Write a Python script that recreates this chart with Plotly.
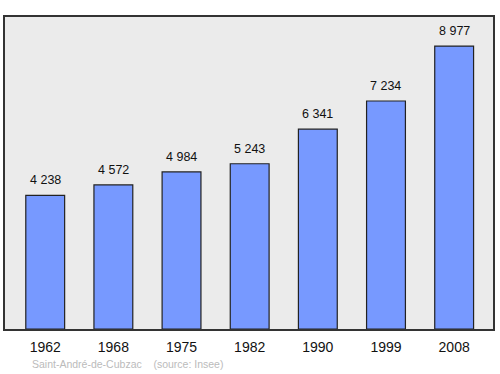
import plotly.graph_objects as go

years = ["1962", "1968", "1975", "1982", "1990", "1999", "2008"]
population = [4238, 4572, 4984, 5243, 6341, 7234, 8977]
value_labels = ["4 238", "4 572", "4 984", "5 243", "6 341", "7 234", "8 977"]

xpos = list(range(len(years)))
font_family = "Liberation Sans, Arial, sans-serif"

fig = go.Figure()
fig.add_trace(go.Bar(
    x=xpos, y=population, width=0.57,
    marker=dict(color="#7799ff", line=dict(color="#222222", width=1.2)),
    hoverinfo="skip",
))

for x, v, t in zip(xpos, population, value_labels):
    fig.add_annotation(x=x, y=v, text=t, showarrow=False, yanchor="bottom",
                       yshift=6, font=dict(family=font_family, size=12.5, color="#111111"))

fig.add_annotation(x=0.052, y=-0.112, xref="paper", yref="paper",
                   text="Saint-André-de-Cubzac&nbsp;&nbsp;&nbsp;&nbsp;(source: Insee)",
                   showarrow=False, xanchor="left", yanchor="middle",
                   font=dict(family=font_family, size=10.5, color="#bbbbbb"))

fig.update_layout(
    width=500, height=374,
    margin=dict(l=5, r=5, t=17, b=45),
    paper_bgcolor="white", plot_bgcolor="#ebebeb",
    showlegend=False,
    xaxis=dict(range=[-0.59, 6.57], tickmode="array", tickvals=xpos, ticktext=years,
               showgrid=False, zeroline=False, showline=True, mirror=True,
               linecolor="#333333", linewidth=1.5, ticks="", ticklen=0,
               ticklabelstandoff=4,
               tickfont=dict(family=font_family, size=14, color="#111111")),
    yaxis=dict(range=[0, 9900], showgrid=False, zeroline=False, showticklabels=False,
               showline=True, mirror=True, linecolor="#333333", linewidth=1.5, ticks=""),
)

fig.write_html("out.html")
